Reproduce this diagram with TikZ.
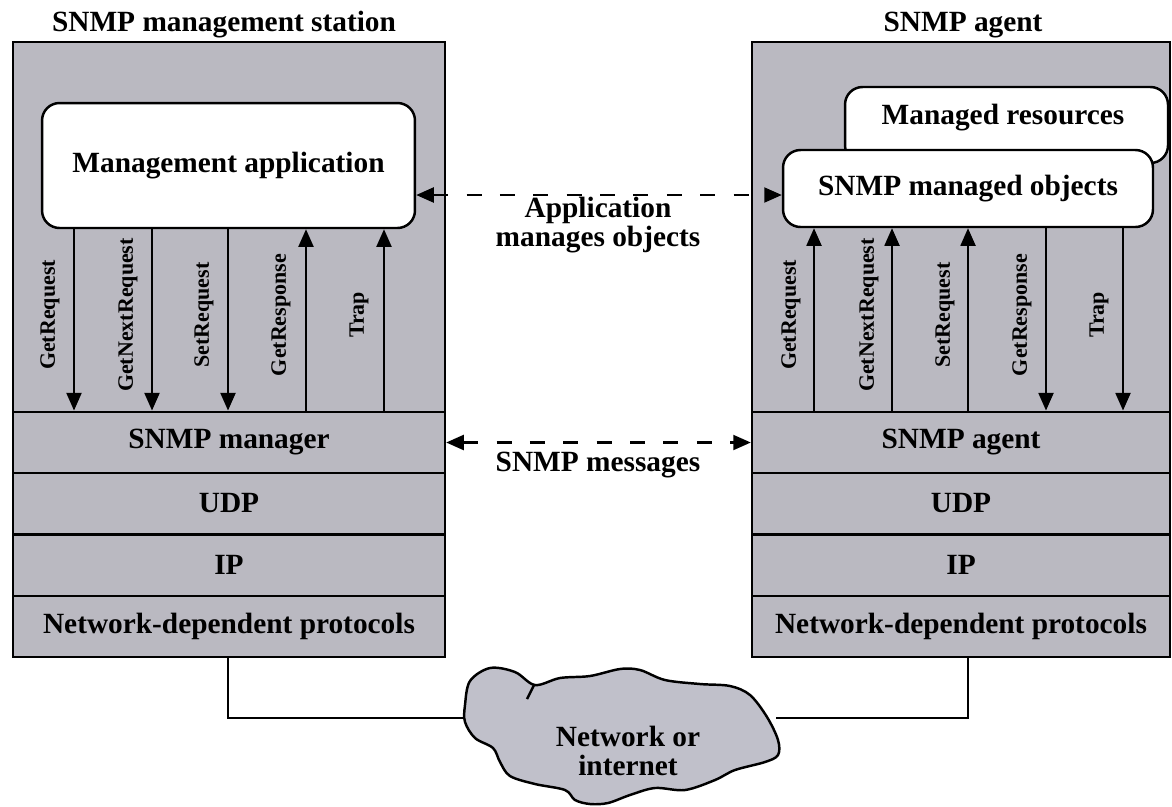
\documentclass[tikz,border=0pt]{standalone}
\usepackage{fontspec}
\setmainfont{Liberation Serif}
\usepackage{xcolor}
\usetikzlibrary{arrows.meta}
\definecolor{stackgray}{RGB}{186,185,193}
\definecolor{cloudgray}{RGB}{192,192,202}

\begin{document}
\begin{tikzpicture}[x=0.02cm, y=-0.02cm,
    every node/.style={font=\bfseries\fontsize{16.7}{17}\selectfont},
    station/.style={draw, line width=1.4pt, fill=stackgray, inner sep=0pt},
    layer/.style={draw, line width=1.4pt, fill=stackgray, minimum height=1.23cm, inner sep=0pt},
    appbox/.style={draw, line width=1.4pt, fill=white, rounded corners=0.35cm, inner sep=0pt},
    msg/.style={font=\bfseries\fontsize{12.5}{14}\selectfont, rotate=90},
    pdu/.style={line width=1.2pt, -{Triangle[length=10pt,width=8.5pt]}},
    peer/.style={line width=1.3pt, dash pattern=on 8.5pt off 10.5pt, {Triangle[length=10pt,width=8.5pt]}-{Triangle[length=10pt,width=8.5pt]}}]
        \useasboundingbox (0,0) rectangle (1172,806);

        % management station
        \node (mst) [station, minimum width=8.64cm, minimum height=12.3cm] at (229,349.5) {};
        \node (msttitle) at (224,25) {SNMP management station};
        \node (app) [appbox, minimum width=7.46cm, minimum height=2.5cm] at (228.5,165.5) {Management application};
        \node (mgr) [layer, minimum width=8.64cm] at (229,442.5) {SNMP manager};
        \node (udpL) [layer, minimum width=8.64cm] at (229,503.5) {UDP};
        \node (ipL) [layer, minimum width=8.64cm] at (229,565) {IP};
        \node (netL) [layer, minimum width=8.64cm] at (229,626.5) {Network-dependent protocols};

        % agent
        \node (agst) [station, minimum width=8.36cm, minimum height=12.3cm] at (961,349.5) {};
        \node (agsttitle) at (963,25) {SNMP agent};
        \node (mres) [appbox, minimum width=6.46cm, minimum height=1.52cm] at (1006.5,125) {};
        \node (mrestxt) at (1003,118) {Managed resources};
        \node (objs) [appbox, minimum width=7.4cm, minimum height=1.54cm] at (968,188.5) {SNMP managed objects};
        \node (agt) [layer, minimum width=8.36cm] at (961,442.5) {SNMP agent};
        \node (udpR) [layer, minimum width=8.36cm] at (961,503.5) {UDP};
        \node (ipR) [layer, minimum width=8.36cm] at (961,565) {IP};
        \node (netR) [layer, minimum width=8.36cm] at (961,626.5) {Network-dependent protocols};

        % messages, manager side
        \foreach \x/\msgname [count=\i] in {74/GetRequest,152/GetNextRequest,228/SetRequest}
        {
            \draw[pdu] (\x,0 |- app.south) -- (\x,0 |- mgr.north);
            \node (lreq\i) [msg] at (\x-24,315) {\msgname};
        }
        \foreach \x/\msgname [count=\i] in {306/GetResponse,384/Trap}
        {
            \draw[pdu] (\x,0 |- mgr.north) -- (\x,0 |- app.south);
            \node (lrsp\i) [msg] at (\x-25,315) {\msgname};
        }

        % messages, agent side
        \foreach \x/\msgname [count=\i] in {814/GetRequest,892/GetNextRequest,968/SetRequest}
        {
            \draw[pdu] (\x,0 |- agt.north) -- (\x,0 |- objs.south);
            \node (rreq\i) [msg] at (\x-23,315) {\msgname};
        }
        \foreach \x/\msgname [count=\i] in {1046/GetResponse,1123/Trap}
        {
            \draw[pdu] (\x,0 |- objs.south) -- (\x,0 |- agt.north);
            \node (rrsp\i) [msg] at (\x-24,315) {\msgname};
        }

        % peer relations
        \draw[peer] (app.east |- 0,195) -- (objs.west |- 0,195);
        \node (peerapp) [align=center] at (598,225) {Application\\manages objects};
        \draw[peer] (mgr.east) -- (agt.west);
        \node (peersnmp) at (598,465) {SNMP messages};

        % cloud
        \filldraw[fill=cloudgray, line width=1.4pt] plot[smooth cycle, tension=0.55] coordinates {
            (465,705) (470,681) (490,668) (515,672) (535,685) (560,678) (590,676)
            (620,669) (640,670) (665,680) (700,684) (730,686) (750,695) (767,717)
            (778,740) (778,755) (765,762) (735,770) (715,780) (685,790) (655,788)
            (630,795) (608,803) (590,804) (575,800) (565,790) (535,784) (510,776)
            (500,762) (493,748) (475,738) (465,722)};
        \draw[line width=1.4pt] (534,685) -- (527,699);
        \coordinate (cloudW) at (465,718);
        \coordinate (cloudE) at (776,718);
        \node (cloudtxt) [align=center] at (628,751) {Network or\\internet};

        % links
        \draw[line width=1.2pt] (228,0 |- netL.south) |- (cloudW);
        \draw[line width=1.2pt] (968,0 |- netR.south) |- (cloudE);
    \end{tikzpicture}
\end{document}
